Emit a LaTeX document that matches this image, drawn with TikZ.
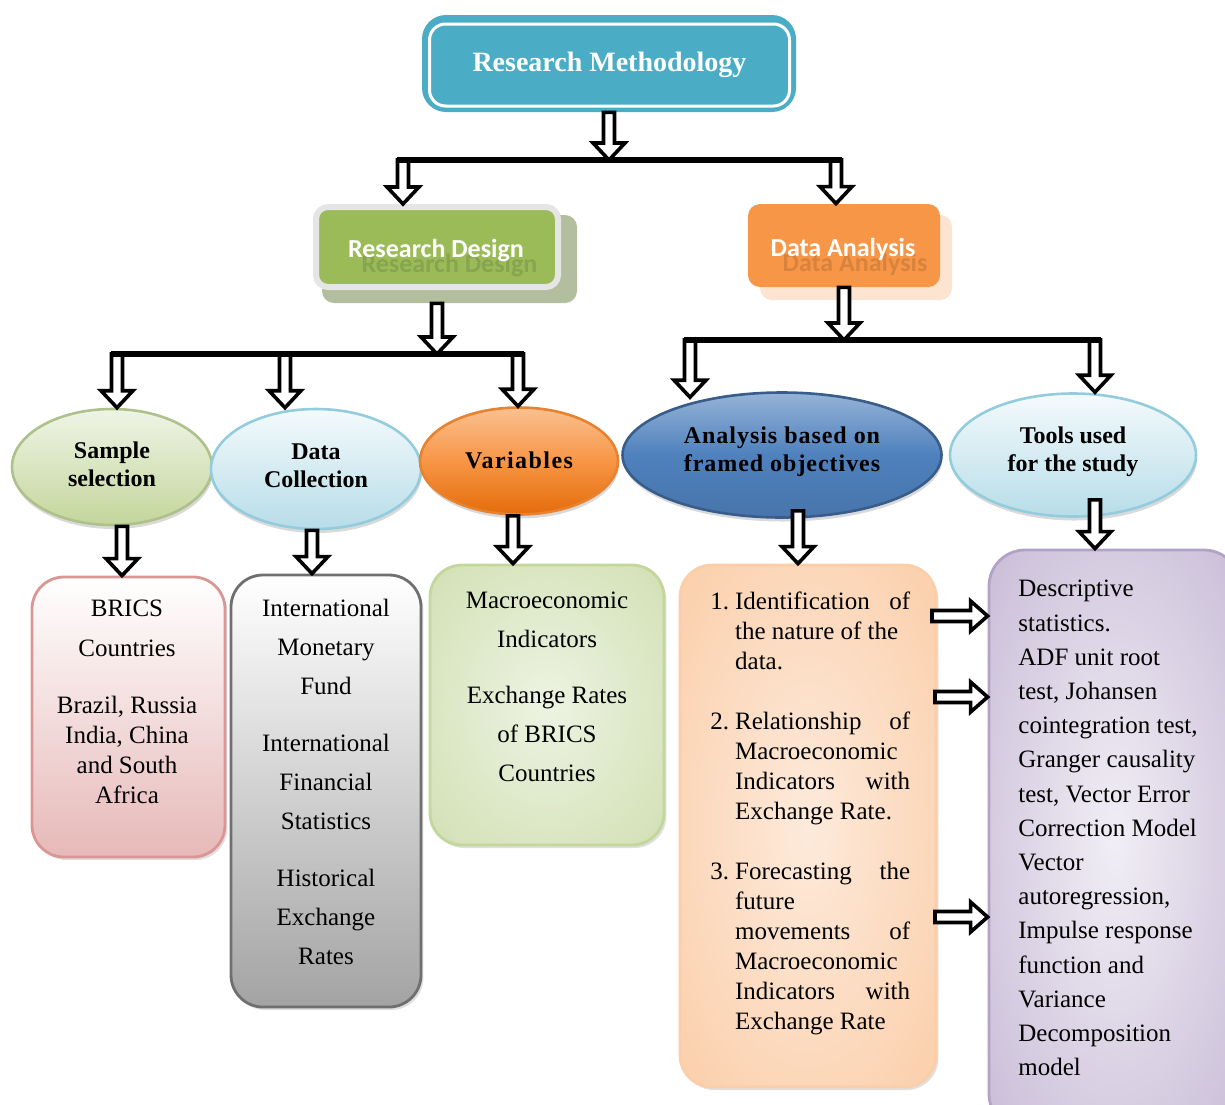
\documentclass[tikz,border=0pt]{standalone}
\usepackage{fontspec}
\setmainfont{Liberation Serif}
\newfontfamily\calib{Carlito}
\usetikzlibrary{positioning, calc, shapes.geometric, shadows}

\definecolor{rmteal}{HTML}{4BACC6}
\definecolor{rdgreen}{HTML}{9BBB59}
\definecolor{rdshade}{HTML}{B3BE9F}
\definecolor{daorange}{HTML}{F79646}
\definecolor{dashade}{HTML}{FDE4D0}
\definecolor{sslight}{HTML}{EFF4E6}
\definecolor{ssdark}{HTML}{C3D69B}
\definecolor{varcore}{HTML}{EDF3E2}
\definecolor{dclight}{HTML}{F4FAFC}
\definecolor{dcfill}{HTML}{B7DDE8}
\definecolor{dcline}{HTML}{93CDDD}
\definecolor{varlight}{HTML}{FAC090}
\definecolor{vardark}{HTML}{E46C0A}
\definecolor{anlight}{HTML}{95B3D7}
\definecolor{anblue}{HTML}{4F81BD}
\definecolor{anline}{HTML}{385D8A}
\definecolor{bricsfill}{HTML}{E6B9B8}
\definecolor{bricsline}{HTML}{D99694}
\definecolor{srcgray}{HTML}{A3A3A3}
\definecolor{srcline}{HTML}{6F6F6F}
\definecolor{objcore}{HTML}{FDEADB}
\definecolor{objline}{HTML}{FBCDA8}
\definecolor{toolcore}{HTML}{F1EEF5}
\definecolor{toolline}{HTML}{B3A2C7}

\pgfdeclareradialshading{varglow}{\pgfpoint{0bp}{0bp}}{color(0bp)=(varcore); color(55bp)=(ssdark); color(75bp)=(ssdark)}
\pgfdeclareradialshading{objglow}{\pgfpoint{0bp}{0bp}}{color(0bp)=(objcore); color(55bp)=(varlight); color(75bp)=(varlight)}
\pgfdeclareradialshading{toolglow}{\pgfpoint{0bp}{0bp}}{color(0bp)=(toolcore); color(55bp)=(toolline); color(75bp)=(toolline)}

\tikzset{
    darrow/.style={draw=black, line width=1.8pt, fill=white,
        to path={let \p1=(\tikztostart), \p2=(\tikztotarget) in
            (\x1-2.75pt,\y1) -- (\x1-2.75pt,\y2+8.5pt) -- (\x1-8pt,\y2+8.5pt) -- (\x1,\y2)
            -- (\x1+8pt,\y2+8.5pt) -- (\x1+2.75pt,\y2+8.5pt) -- (\x1+2.75pt,\y1) -- cycle}},
    rarrow/.style={draw=black, line width=1.8pt, fill=white,
        to path={let \p1=(\tikztostart), \p2=(\tikztotarget) in
            (\x1,\y1+2.75pt) -- (\x2-8.5pt,\y1+2.75pt) -- (\x2-8.5pt,\y1+7.5pt) -- (\x2,\y1)
            -- (\x2-8.5pt,\y1-7.5pt) -- (\x2-8.5pt,\y1-2.75pt) -- (\x1,\y1-2.75pt) -- cycle}},
    bar/.style={line width=3pt, shorten <=-3pt, shorten >=-3pt},
    panel/.style={rectangle, rounded corners=6pt},
    headtxt/.style={text=white, font=\calib\fontsize{13}{15}\selectfont\bfseries},
    ghost/.style={text=black, text opacity=0.12, font=\calib\fontsize{13}{15}\selectfont\bfseries},
    oval/.style={ellipse, line width=1.3pt, align=center, inner sep=0pt, text depth=3pt,
        font=\fontsize{12}{14}\selectfont\bfseries,
        drop shadow={shadow xshift=0.5pt, shadow yshift=-2pt, opacity=0.3}},
    card/.style={rectangle, rounded corners=16pt, line width=1.4pt,
        drop shadow={shadow xshift=1.2pt, shadow yshift=-1.5pt, opacity=0.25}},
    txt/.style={inner sep=0pt, align=center, font=\fontsize{12.5}{19.5}\selectfont}
}

\begin{document}
\begin{tikzpicture}[x=0.5pt, y=-0.5pt]
\useasboundingbox (0,0) rectangle (1225,1104);
\clip (0,0) rectangle (1225,1104);

% top
\node[rounded corners=12pt, fill=rmteal, minimum width=187pt, minimum height=48.5pt] (rmframe) at (609,63.5) {};
\node[rounded corners=8pt, draw=white, line width=1.5pt, fill=rmteal, minimum width=180pt, minimum height=41pt,
      text=white, font=\fontsize{14}{16}\selectfont\bfseries] (rm) at (609.5,65) {Research Methodology};

% design and analysis
\node[panel, fill=rdshade, minimum width=127.5pt, minimum height=44pt] (rdback) at (449.5,259) {};
\node[panel, fill=rdgreen, draw=white!90!black, line width=3pt, minimum width=121pt, minimum height=40pt] (rd) at (437,247) {};
\node[ghost] (rdecho) at (449.5,266) {Research Design};
\node[headtxt] (rdlbl) at (436,251) {Research Design};

\node[panel, fill=dashade, minimum width=96pt, minimum height=42.5pt] (daback) at (856,257.5) {};
\node[panel, fill=daorange, minimum width=96pt, minimum height=41.5pt] (da) at (844,245.5) {};
\node[ghost] (daecho) at (855,264) {Data Analysis};
\node[headtxt] (dalbl) at (843,249) {Data Analysis};

% ovals
\node[oval, top color=sslight, bottom color=ssdark, draw=ssdark!90!black, minimum width=100pt, minimum height=58pt] (ss) at (112,467) {Sample\\selection};
\node[oval, top color=dclight, bottom color=dcfill, draw=dcline, minimum width=105pt, minimum height=60pt] (dc) at (316,469) {Data\\Collection};
\node[oval, top color=varlight, bottom color=vardark, middle color=daorange, draw=vardark!85!white, minimum width=99pt, minimum height=53.5pt,
      text depth=1pt, font=\fontsize{12}{14}\selectfont\bfseries\addfontfeature{LetterSpace=6}] (var) at (519,461) {Variables};
\node[oval, top color=anlight, bottom color=anblue!90!black, middle color=anblue, draw=anline, minimum width=159.5pt, minimum height=62.5pt,
      text depth=5.6pt, font=\fontsize{12}{14}\selectfont\bfseries\addfontfeature{LetterSpace=4}] (an) at (782,455) {Analysis based on\\framed objectives};
\node[oval, top color=dclight, bottom color=dcfill, draw=dcline, minimum width=123pt, minimum height=61.5pt,
      text depth=5.6pt] (tl) at (1073,455) {Tools used\\for the study};

% boxes
\node[card, top color=white, bottom color=bricsfill, draw=bricsline, minimum width=96.5pt, minimum height=140pt] (brics) at (128.5,717) {};
\node[txt, anchor=north, font=\fontsize{12.5}{15}\selectfont] (bricstxt) at (127,600)
    {BRICS\\[5pt]Countries\\[13.5pt]Brazil, Russia\\India, China\\and South\\Africa};

\node[card, top color=white, bottom color=srcgray, draw=srcline, minimum width=95pt, minimum height=216pt] (dcbox) at (326,791) {};
\node[txt, anchor=north] (dctxt) at (326,599)
    {International\\Monetary\\Fund\\[9pt]International\\Financial\\Statistics\\[9pt]Historical\\Exchange\\Rates};

\node[card, shading=varglow, draw=ssdark, minimum width=117pt, minimum height=140pt] (varbox) at (547,705) {};
\node[txt, anchor=north] (vartxt) at (547,592)
    {Macroeconomic\\Indicators\\[8.5pt]Exchange Rates\\of BRICS\\Countries};

\node[card, shading=objglow, draw=objline, minimum width=128pt, minimum height=261pt] (objbox) at (808,826) {};
\node[inner sep=0pt, anchor=north west, font=\fontsize{12.5}{15}\selectfont] (objtxt) at (710,588) {%
    \begin{tabular}{@{}l@{\hspace{3pt}}p{87.5pt}@{}}
    1. & Identification\hfill of\newline the nature of the\newline data.\\[15pt]
    2. & Relationship\hfill of\newline Macroeconomic\newline Indicators\hfill with\newline Exchange Rate.\\[15pt]
    3. & Forecasting\hfill the\newline future\newline movements\hfill of\newline Macroeconomic\newline Indicators\hfill with\newline Exchange Rate
    \end{tabular}};

\node[card, rounded corners=18pt, shading=toolglow, draw=toolline, minimum width=125.5pt, minimum height=290pt] (toolbox) at (1114.5,840) {};
\node[txt, anchor=north west, align=left, font=\fontsize{12.5}{17.1}\selectfont] (tooltxt) at (1018,580)
    {Descriptive\\statistics.\\ADF unit root\\test, Johansen\\cointegration test,\\Granger causality\\test, Vector Error\\Correction Model\\Vector\\autoregression,\\Impulse response\\function and\\Variance\\Decomposition\\model};

% connectors
\coordinate (j1) at (609,160);
\coordinate (j1a) at (403,160);
\coordinate (j1b) at (836,160);
\draw[darrow] (rmframe.south) to (j1);
\draw[darrow] (j1a) to (j1a |- rd.north);
\draw[darrow] (j1b) to (j1b |- da.north);
\draw[bar] (j1a) -- (j1b);

\coordinate (j2) at (437,354);
\coordinate (j2a) at (117,354);
\coordinate (j2b) at (285,354);
\coordinate (j2c) at (518,354);
\draw[darrow] (rd.south |- rdback.south) to (j2);
\draw[darrow] (j2a) to (j2a |- ss.north);
\draw[darrow] (j2b) to (j2b |- dc.north);
\draw[darrow] (j2c) to (j2c |- var.north);
\draw[bar] (j2a) -- (j2c);

\coordinate (j3) at (844,340);
\coordinate (j3a) at (690,340);
\coordinate (j3b) at (1095,340);
\draw[darrow] (da.south) to (j3);
\draw[darrow] (j3a) to ([yshift=-3pt]j3a |- an.north);
\draw[darrow] (j3b) to (j3b |- tl.north);
\draw[bar] (j3a) -- (j3b);

\coordinate (ss0) at ([xshift=5pt]ss.south);
\coordinate (dc0) at ([xshift=-2pt]dc.south);
\coordinate (var0) at ([xshift=-3pt]var.south);
\coordinate (an0) at ([xshift=8pt,yshift=4pt]an.south);
\coordinate (tl0) at ([xshift=11pt,yshift=9pt]tl.south);
\draw[darrow] (ss0) to (ss0 |- brics.north);
\draw[darrow] (dc0) to (dc0 |- dcbox.north);
\draw[darrow] (var0) to (var0 |- varbox.north);
\draw[darrow] (an0) to (an0 |- objbox.north);
\draw[darrow] (tl0) to (tl0 |- toolbox.north);

\coordinate (r1) at (932,616);
\coordinate (r2) at (935,697);
\coordinate (r3) at (935,917);
\draw[rarrow] (r1) to (r1 -| toolbox.west);
\draw[rarrow] (r2) to (r2 -| toolbox.west);
\draw[rarrow] (r3) to (r3 -| toolbox.west);
\end{tikzpicture}
\end{document}
